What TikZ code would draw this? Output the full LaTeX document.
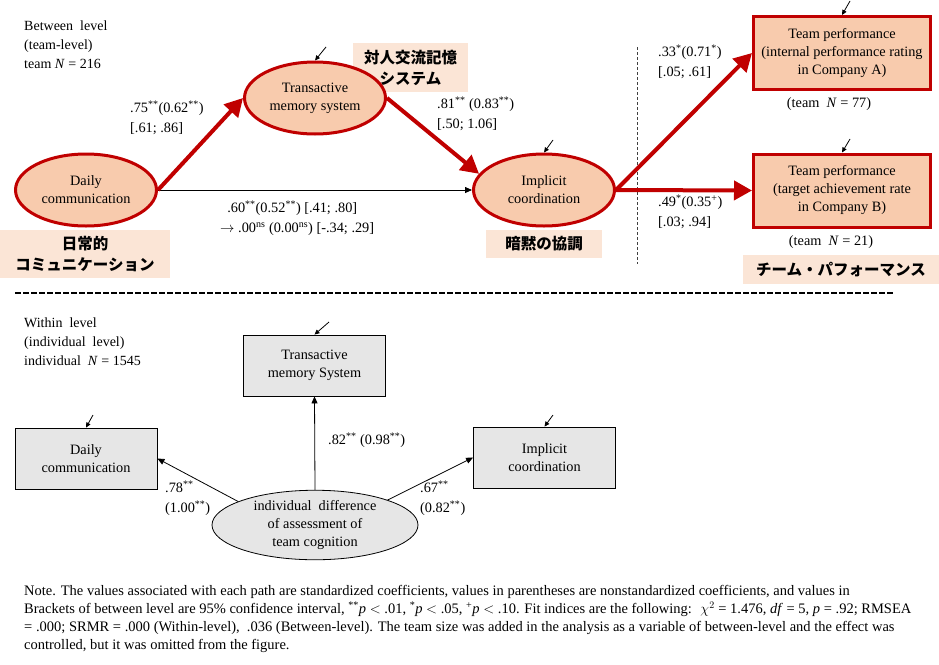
\documentclass[tikz,border=0pt]{standalone}
\usepackage{fontspec}
\setmainfont{Liberation Serif}
\newfontfamily\jp{Noto Sans CJK JP}
\usetikzlibrary{shapes.geometric,arrows.meta}
\definecolor{dred}{HTML}{C00000}
\definecolor{peach}{HTML}{F8CBAD}
\definecolor{lpeach}{HTML}{FBE5D6}
\definecolor{lgray}{HTML}{E6E6E6}
\tikzset{
  txt/.style={font=\fontsize{14}{19}\selectfont, inner sep=0pt, align=left},
  ctxt/.style={font=\fontsize{14.3}{18}\selectfont, align=center},
  redell/.style={ellipse, draw=dred, line width=3pt, fill=peach, minimum width=141pt, minimum height=72pt, inner sep=0pt, ctxt},
  redbox/.style={rectangle, draw=dred, line width=3pt, fill=peach, minimum width=177pt, minimum height=73pt, inner sep=0pt, ctxt},
  jpbox/.style={rectangle, fill=lpeach, inner sep=0pt, align=center, font=\jp\bfseries\fontsize{15.5}{21}\selectfont},
  graybox/.style={rectangle, draw=black, line width=0.8pt, fill=lgray, minimum width=142pt, minimum height=61pt, inner sep=0pt, ctxt},
  grayell/.style={ellipse, draw=black, line width=0.8pt, fill=lgray, minimum width=206pt, minimum height=64pt, inner sep=0pt, ctxt},
  redarr/.style={draw=dred, line width=4pt, -{Triangle[length=18pt,width=19pt]}},
  blkarr/.style={draw=black, line width=0.8pt, -{Triangle[length=7pt,width=6pt]}},
  errarr/.style={draw=black, line width=0.8pt, -{Triangle[length=5pt,width=4.5pt]}},
  lbl/.style={font=\fontsize{14.3}{20}\selectfont, inner sep=0pt, anchor=west, align=left},
}
\newcommand{\sups}[1]{\textsuperscript{#1}}
\begin{document}
\begin{tikzpicture}[x=1pt,y=-1pt]
\useasboundingbox (0,0) rectangle (939,664);

% ---------- Between level ----------
\node[txt, anchor=north west] (btitle) at (24,21) {Between\ \ level\\(team-level)\\team \textit{N} = 216};

\node[jpbox, minimum width=170pt, minimum height=48pt] (jdc) at (85,254) {日常的\\コミュニケーション};
\node[jpbox, minimum width=115pt, minimum height=49pt] (jtms) at (410.5,67.5) {対人交流記憶\\システム};
\node[jpbox, minimum width=116pt, minimum height=28pt] (jic) at (544,244) {暗黙の協調};
\node[jpbox, minimum width=196pt, minimum height=29pt] (jtp) at (841,269.5) {チーム・パフォーマンス};

\node[redell] (dc) at (86,190) {Daily\\communication};
\node[redell] (tms) at (315,98) {Transactive\\memory system};
\node[redell] (ic) at (544,190) {Implicit\\coordination};
\node[redbox] (tpa) at (842,53) {Team performance\\(internal performance rating\\in Company A)};
\node[redbox] (tpb) at (842,190.5) {Team performance\\(target achievement rate\\in Company B)};

\node[lbl, anchor=center] (na) at (829,104) {(team\ \ \textit{N} = 77)};
\node[lbl, anchor=center] (nb) at (831,242) {(team\ \ \textit{N} = 21)};

\draw[dash pattern=on 3pt off 2pt, line width=0.9pt, color=black!75] (637,47) -- (637,264);

\draw[blkarr] (dc.east) -- (ic.west);
\draw[redarr] (dc.east) -- (tms.west);
\draw[redarr] (tms.east) -- (ic.166);
\draw[redarr] (ic.east) -- (tpa.west);
\draw[redarr] (ic.east) -- (tpb.west);

\node[lbl] (l1) at (130,118) {.75\sups{**}(0.62\sups{**})\\{[}.61; .86]};
\node[lbl] (l2) at (437,114) {.81\sups{**} (0.83\sups{**})\\{[}.50; 1.06]};
\node[lbl] (l3) at (658,62) {.33\sups{*}(0.71\sups{*})\\{[}.05; .61]};
\node[lbl] (l4) at (658,212) {.49\sups{*}(0.35\sups{+})\\{[}.03; .94]};
\node[lbl] (l5) at (220,218) {\ \ .60\sups{**}(0.52\sups{**}) [.41; .80]\\$\rightarrow$ .00\sups{ns} (0.00\sups{ns}) [-.34; .29]};

\coordinate (e1) at (326,47);
\coordinate (e2) at (553,140);
\coordinate (e3) at (850,1);
\coordinate (e4) at (850,139);
\draw[errarr] (e1) -- (tms.north);
\draw[errarr] (e2) -- (ic.north);
\draw[errarr] (e3) -- (tpa.north);
\draw[errarr] (e4) -- (tpb.north);

% separator
\draw[line width=2pt, dash pattern=on 6pt off 2pt] (15,293) -- (893,293);

% ---------- Within level ----------
\node[txt, anchor=north west] (wtitle) at (24,318) {Within\ \ level\\(individual\ \ level)\\individual\ \ \textit{N} = 1545};

\node[graybox] (tms2) at (314.5,365.5) {Transactive\\memory System};
\node[graybox] (dc2) at (86,458.5) {Daily\\communication};
\node[graybox] (ic2) at (544.5,457.5) {Implicit\\coordination};
\node[grayell] (idiff) at (315,525) {individual\ \ difference\\of assessment of\\team cognition};

\draw[blkarr] (idiff.north) -- (tms2.south);
\draw[blkarr] (idiff.163) -- (dc2.east);
\draw[blkarr] (idiff.19) -- (ic2.west);

\node[lbl] (m1) at (328,440) {.82\sups{**} (0.98\sups{**})};
\node[lbl] (m2) at (165,498) {.78\sups{**}\\(1.00\sups{**})};
\node[lbl] (m3) at (420,498) {.67\sups{**}\\(0.82\sups{**})};

\coordinate (f1) at (329,322);
\coordinate (f2) at (93,415);
\coordinate (f3) at (553,415);
\draw[errarr] (f1) -- (tms2.north);
\draw[errarr] (f2) -- (dc2.north);
\draw[errarr] (f3) -- (ic2.north);

% ---------- Note ----------
\node[inner sep=0pt, anchor=north west, align=left, font=\fontsize{14.5}{18}\selectfont] (note) at (24,585) {Note. The values associated with each path are standardized coefficients, values in parentheses are nonstandardized coefficients, and values in\\
Brackets of between level are 95\% confidence interval, \sups{**}\textit{p} $<$ .01, \sups{*}\textit{p} $<$ .05, \sups{+}\textit{p} $<$ .10. Fit indices are the following: \ $\chi^2$ = 1.476, \textit{df} = 5, \textit{p} = .92; RMSEA\\
= .000; SRMR = .000 (Within-level),\ \ .036 (Between-level). The team size was added in the analysis as a variable of between-level and the effect was\\
controlled, but it was omitted from the figure.};
\end{tikzpicture}
\end{document}
